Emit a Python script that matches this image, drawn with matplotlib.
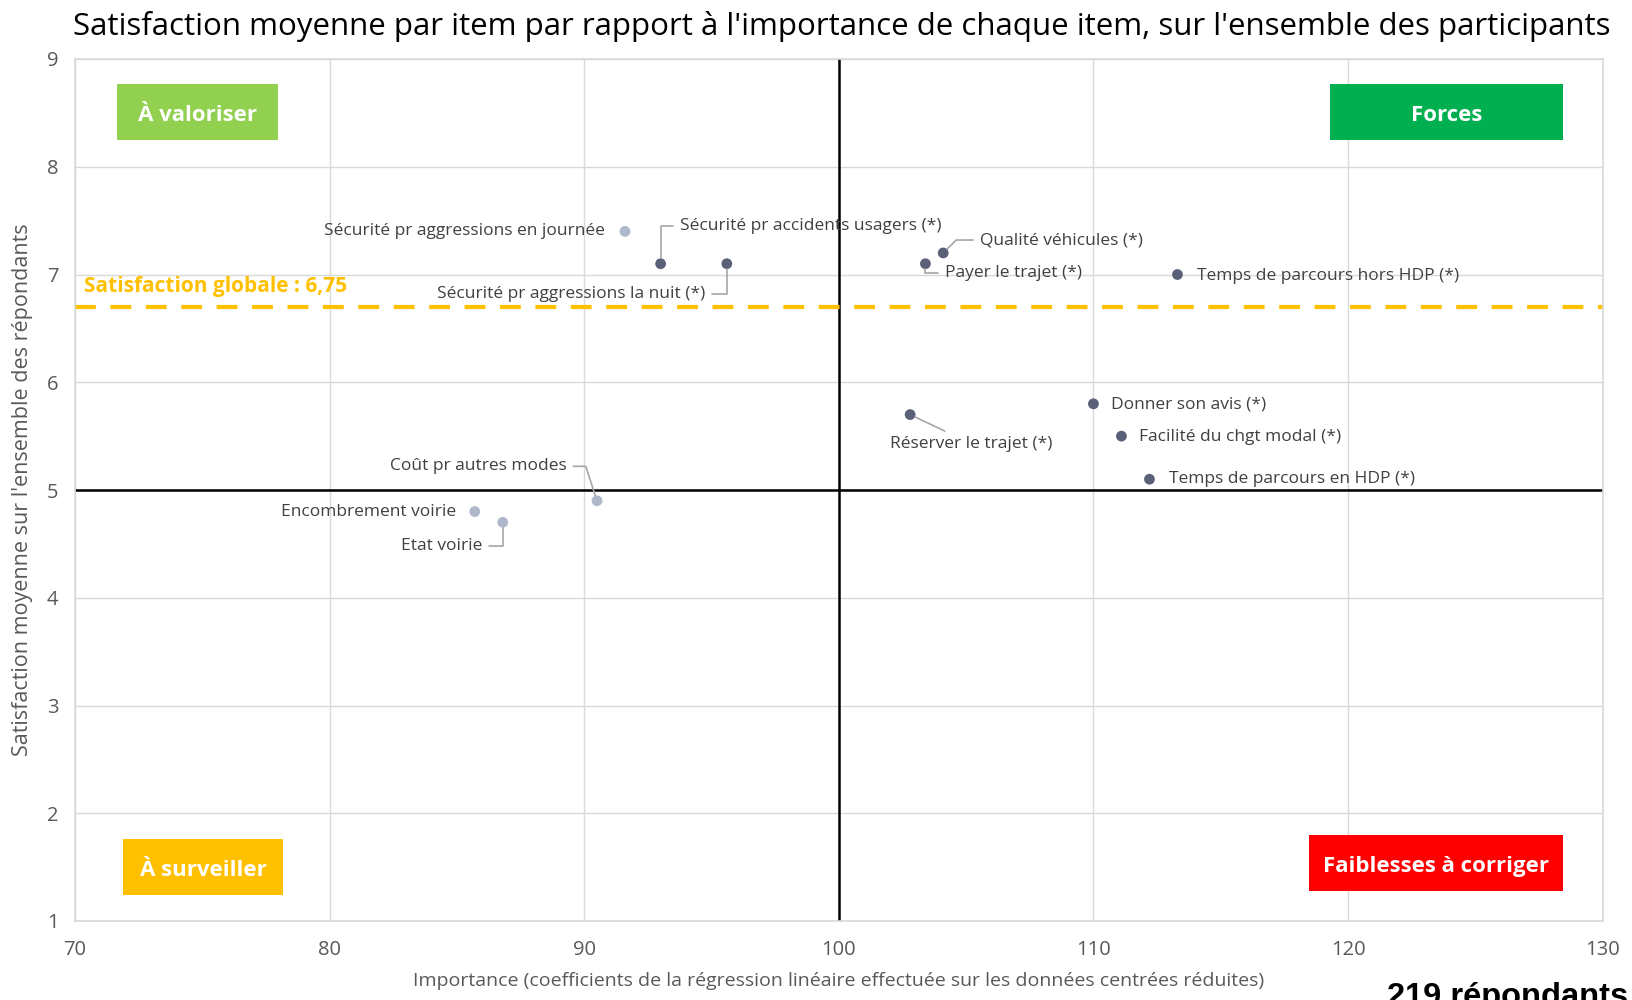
import matplotlib
matplotlib.use("Agg")
from matplotlib import pyplot as plt
from matplotlib.patches import Rectangle

plt.rcParams['font.family'] = ['Open Sans', 'DejaVu Sans']

# ------------------------------------------ Data ------------------------------------------
items = [
    "Sécurité pr aggressions en journée",
    "Sécurité pr accidents usagers (*)",
    "Sécurité pr aggressions la nuit (*)",
    "Qualité véhicules (*)",
    "Payer le trajet (*)",
    "Temps de parcours hors HDP (*)",
    "Réserver le trajet (*)",
    "Donner son avis (*)",
    "Facilité du chgt modal (*)",
    "Temps de parcours en HDP (*)",
    "Coût pr autres modes",
    "Encombrement voirie",
    "Etat voirie",
]
importance = [91.6, 93.0, 95.6, 104.1, 103.4, 113.3, 102.8, 110.0, 111.1, 112.2, 90.5, 85.7, 86.8]
satisfaction = [7.40, 7.10, 7.10, 7.20, 7.10, 7.00, 5.70, 5.80, 5.50, 5.10, 4.90, 4.80, 4.70]
significant = [False, True, True, True, True, True, True, True, True, True, False, False, False]

satisfaction_globale = 6.7
satisfaction_globale_label = "Satisfaction globale : 6,75"
n_respondents = "219 répondants"

x_ticks = [70, 80, 90, 100, 110, 120, 130]
y_ticks = [1, 2, 3, 4, 5, 6, 7, 8, 9]

# ------------------------------------------ Style ------------------------------------------
DARK = "#5A6078"
LIGHT = "#ADB9CA"
GRID = "#D9D9D9"
TEXT = "#404040"
LEADER = "#A6A6A6"

# label placement: (x, y, ha, connectionstyle or None)
label_pos = {
    "Sécurité pr aggressions en journée": (90.8, 7.40, "right", None),
    "Sécurité pr accidents usagers (*)": (93.75, 7.45, "left", "angle,angleA=0,angleB=90,rad=0"),
    "Sécurité pr aggressions la nuit (*)": (94.75, 6.82, "right", "angle,angleA=0,angleB=90,rad=0"),
    "Qualité véhicules (*)": (105.55, 7.32, "left", "angle,angleA=0,angleB=45,rad=0"),
    "Payer le trajet (*)": (104.15, 7.01, "left", "angle,angleA=0,angleB=90,rad=0"),
    "Temps de parcours hors HDP (*)": (114.05, 6.99, "left", None),
    "Réserver le trajet (*)": (105.2, 5.43, "center", "arc3,rad=0"),
    "Donner son avis (*)": (110.7, 5.79, "left", None),
    "Facilité du chgt modal (*)": (111.8, 5.49, "left", None),
    "Temps de parcours en HDP (*)": (112.95, 5.10, "left", None),
    "Coût pr autres modes": (89.3, 5.22, "right", "angle,angleA=0,angleB=108,rad=0"),
    "Encombrement voirie": (84.95, 4.80, "right", None),
    "Etat voirie": (86.0, 4.48, "right", "angle,angleA=0,angleB=90,rad=0"),
}

fig = plt.figure(figsize=(16.32, 10), dpi=100)
ax = fig.add_axes([0.046, 0.079, 0.936, 0.862])

ax.set_xlim(70, 130)
ax.set_ylim(1, 9)
ax.set_xticks(x_ticks)
ax.set_yticks(y_ticks)
ax.tick_params(length=0, labelsize=14.5, labelcolor="#595959", pad=14)
ax.tick_params(axis="y", pad=12)
ax.grid(True, color=GRID, lw=1)
ax.set_axisbelow(True)
for s in ax.spines.values():
    s.set_color(GRID)
    s.set_linewidth(1.2)

# quadrant axes
ax.axvline(100, color="black", lw=1.8, zorder=2)
ax.axhline(5, color="black", lw=1.8, zorder=2)

# overall satisfaction
ax.axhline(satisfaction_globale, color="#FFC000", lw=3, dashes=(5, 3.5), zorder=2)
ax.text(70.37, 6.89, satisfaction_globale_label, color="#FFC000", fontsize=15,
        fontweight="bold", va="center", ha="left")

# points
colors = [DARK if s else LIGHT for s in significant]
ax.scatter(importance, satisfaction, s=60, c=colors, zorder=4, edgecolors="none")

for name, x, y in zip(items, importance, satisfaction):
    tx, ty, ha, conn = label_pos[name]
    arrow = None
    if conn is not None:
        arrow = dict(arrowstyle="-", color=LEADER, lw=1.2, connectionstyle=conn,
                     shrinkA=3, shrinkB=4)
    ax.annotate(name, xy=(x, y), xytext=(tx, ty), ha=ha, va="center",
                fontsize=12.5, color=TEXT, arrowprops=arrow, zorder=5)

# quadrant boxes
quadrants = [
    ("À valoriser", 71.63, 8.25, 77.97, 8.77, "#92D050"),
    ("Forces", 119.28, 8.25, 128.44, 8.77, "#00B050"),
    ("À surveiller", 71.88, 1.24, 78.17, 1.76, "#FFC000"),
    ("Faiblesses à corriger", 118.47, 1.28, 128.44, 1.80, "#FF0000"),
]
for label, x0, y0, x1, y1, col in quadrants:
    ax.add_patch(Rectangle((x0, y0), x1 - x0, y1 - y0, facecolor=col, edgecolor="none", zorder=3))
    ax.text((x0 + x1) / 2, (y0 + y1) / 2 - 0.03, label, color="white", fontsize=16,
            fontweight="bold", ha="center", va="center", zorder=4)

ax.set_xlabel("Importance (coefficients de la régression linéaire effectuée sur les données centrées réduites)",
              fontsize=14, color="#595959", labelpad=8)
ax.set_ylabel("Satisfaction moyenne sur l'ensemble des répondants", fontsize=15.5,
              color="#595959", labelpad=10)

fig.suptitle("Satisfaction moyenne par item par rapport à l'importance de chaque item, sur l'ensemble des participants",
             x=0.516, y=0.989, fontsize=22.5, color="black", va="top")

# partly cut off at the bottom edge, as in the original export
fig.text(0.998, 0.018, n_respondents, family=["Liberation Sans", "DejaVu Sans"],
         fontweight="bold", fontsize=23.5, color="black", ha="right", va="top")

fig.savefig("out.png", dpi=100)
